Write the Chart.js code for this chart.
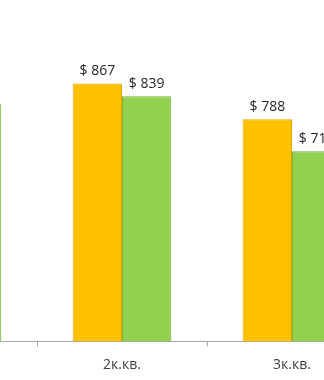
<!DOCTYPE html>
<html>
<head>
<meta charset="utf-8">
<script src="https://cdn.jsdelivr.net/npm/chart.js@4/dist/chart.umd.min.js"></script>
<style>
  html, body { margin: 0; padding: 0; background: #fff; overflow: hidden; }
  #wrap { position: absolute; left: -133px; top: 0; width: 510px; height: 383px; }
</style>
</head>
<body>
<div id="wrap"><canvas id="myChart"></canvas></div>
<script>
// quarters (the first one is only partly visible on the left)
const quarters = ['1к.кв.', '2к.кв.', '3к.кв.'];
const series1 = [null, 867, 788];   // yellow
const series2 = [821, 839, 718];    // green

// draws "$ value" above every bar
const valueLabels = {
    id: 'valueLabels',
    afterDatasetsDraw(chart) {
        const ctx = chart.ctx;
        ctx.save();
        ctx.font = '14px "Open Sans", sans-serif';
        ctx.fillStyle = '#262626';
        ctx.textAlign = 'center';
        ctx.textBaseline = 'alphabetic';
        chart.data.datasets.forEach((ds, i) => {
            chart.getDatasetMeta(i).data.forEach((bar, j) => {
                if (ds.data[j] == null) return;
                ctx.fillText('$ ' + ds.data[j], bar.x, bar.y - 8);
            });
        });
        ctx.restore();
    }
};

const renderChart = () => {
    var ctx = document.getElementById('myChart').getContext('2d');
    new Chart(ctx, {
        type: 'bar',
        data: {
            labels: quarters,
            datasets: [{
                label: 'Серия 1',
                data: series1,
                backgroundColor: '#FFC000',
                borderColor: '#E3A700',
                borderWidth: 1
            }, {
                label: 'Серия 2',
                data: series2,
                backgroundColor: '#92D050',
                borderColor: '#76B13A',
                borderWidth: 1
            }]
        },
        options: {
            responsive: true,
            maintainAspectRatio: false,
            animation: false,
            layout: { padding: { top: 23, bottom: 0, left: 0, right: 0 } },
            categoryPercentage: 0.58,
            barPercentage: 1,
            plugins: {
                legend: { display: false },
                tooltip: { enabled: false }
            },
            scales: {
                x: {
                    grid: {
                        drawOnChartArea: false,
                        offset: true,
                        tickLength: 5,
                        color: '#A6A6A6'
                    },
                    border: { color: '#A6A6A6' },
                    ticks: {
                        color: '#404040',
                        padding: 10,
                        font: { family: '"Open Sans", sans-serif', size: 14 }
                    }
                },
                y: {
                    display: false,
                    min: 300,
                    max: 1000
                }
            }
        },
        plugins: [valueLabels]
    });
};

renderChart();
</script>
</body>
</html>
